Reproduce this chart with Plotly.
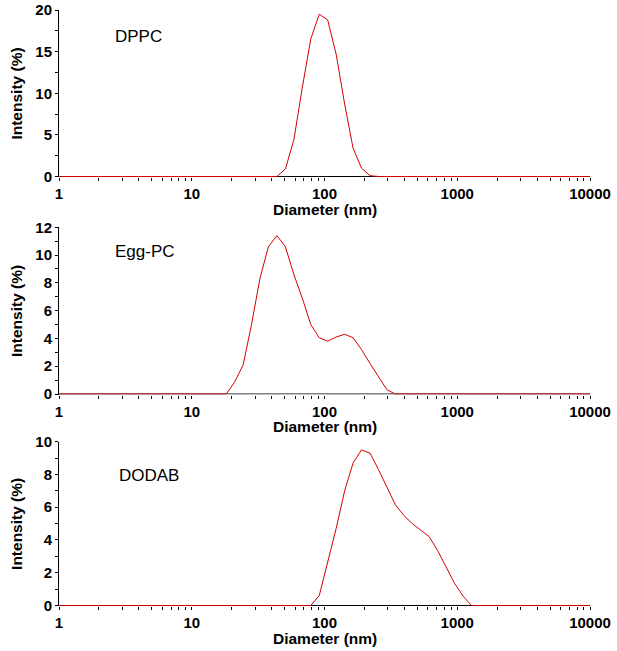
import plotly.graph_objects as go

# ---- data (Zetasizer size bins, nm) ----
dppc_d = [1, 43.8, 50.75, 58.77, 68.06, 78.8, 91.28, 105.7, 122.4, 141.8, 164.2, 190.1, 220.2, 255.0, 10000]
dppc_i = [0, 0, 0.9, 4.4, 10.7, 16.5, 19.5, 18.8, 14.7, 8.7, 3.4, 1.0, 0.1, 0, 0]

egg_d = [1, 18.2, 21.0, 24.4, 28.2, 32.6, 37.8, 43.8, 50.75, 58.77, 68.06, 78.8, 91.28, 105.7,
         122.4, 141.8, 164.2, 190.1, 220.2, 255.0, 295.3, 342.0, 10000]
egg_i = [0, 0, 0.85, 2.1, 5.0, 8.3, 10.6, 11.4, 10.6, 8.6, 6.9, 5.0, 4.05, 3.8,
         4.1, 4.3, 4.05, 3.2, 2.2, 1.2, 0.3, 0, 0]

dodab_d = [1, 78.8, 91.28, 105.7, 122.4, 141.8, 164.2, 190.1, 220.2, 255.0, 295.3, 342.0, 396.0,
           458.6, 531.0, 615.0, 712.0, 825.0, 955.0, 1106.0, 1281.0, 10000]
dodab_i = [0, 0, 0.6, 2.7, 4.7, 7.0, 8.7, 9.5, 9.3, 8.3, 7.2, 6.15, 5.5,
           5.0, 4.6, 4.2, 3.35, 2.3, 1.35, 0.57, 0, 0]

sample_names = ["DPPC", "Egg-PC", "DODAB"]

# tick labels
x_decades = [1, 10, 100, 1000, 10000]
x_decade_labels = ["1", "10", "100", "1000", "10000"]
x_minor_mult = [2, 3, 4, 5, 6, 7, 8, 9]

y1_major = [0, 5, 10, 15, 20]
y1_minor_step = 2.5
y2_major = [0, 2, 4, 6, 8, 10, 12]
y2_minor_step = 1
y3_major = [0, 2, 4, 6, 8, 10]
y3_minor_step = 1

# ---- build tick arrays ----
xtickvals, xticktext = [], []
for d, lab in zip(x_decades, x_decade_labels):
    xtickvals.append(d)
    xticktext.append(lab)
    if d < x_decades[-1]:
        for m in x_minor_mult:
            xtickvals.append(d * m)
            xticktext.append("")


def yticks(major, step):
    vals, txt = [], []
    for i, v in enumerate(major):
        vals.append(v)
        txt.append(str(v))
        if i < len(major) - 1:
            vals.append(v + step)
            txt.append("")
    return vals, txt


FONT = "Liberation Sans, Arial, sans-serif"
RED = "#d40000"

W, H = 617, 651
ML, MR, MT, MB = 59, 27, 10, 45
ph = H - MT - MB


def dom(top_px, bot_px):
    return [(H - MB - bot_px) / ph, (H - MB - top_px) / ph]


domains = [dom(10, 177), dom(227.3, 394.5), dom(441.7, 606)]
yranges = [[-0.06, 20], [-0.036, 12], [-0.03, 10]]
yts = [yticks(y1_major, y1_minor_step), yticks(y2_major, y2_minor_step), yticks(y3_major, y3_minor_step)]
label_pos = [(0.101, 0.844), (0.101, 0.858), (0.109, 0.797)]

fig = go.Figure()
series = [(dppc_d, dppc_i), (egg_d, egg_i), (dodab_d, dodab_i)]
for k, (d, inten) in enumerate(series):
    sfx = "" if k == 0 else str(k + 1)
    fig.add_trace(go.Scatter(x=d, y=inten, mode="lines", line=dict(color=RED, width=1),
                             xaxis="x" + sfx, yaxis="y" + sfx, showlegend=False, hoverinfo="x+y"))

layout = dict(width=W, height=H, margin=dict(l=ML, r=MR, t=MT, b=MB),
              paper_bgcolor="white", plot_bgcolor="white", showlegend=False,
              font=dict(family=FONT, color="black"))
shapes, annotations = [], []
for k in range(3):
    sfx = "" if k == 0 else str(k + 1)
    tickfont = dict(family=FONT, size=15, color="black", weight="bold")
    titlefont = dict(family=FONT, size=15.5, color="black", weight="bold")
    layout["xaxis" + sfx] = dict(
        type="log", range=[0, 4], domain=[0, 1], anchor="y" + sfx,
        tickmode="array", tickvals=xtickvals, ticktext=xticktext,
        ticks="outside", ticklen=3, tickwidth=1, tickcolor="black",
        showline=False, showgrid=False, zeroline=False, automargin=False,
        tickfont=tickfont,
    )
    # x-axis title placed just below the tick labels
    annotations.append(dict(text="Diameter (nm)", xref="x" + sfx + " domain", yref="y" + sfx + " domain",
                            x=0.5, y=0, yshift=-32, xanchor="center", yanchor="middle",
                            showarrow=False, font=titlefont))
    # overlay axis for inward half of the ticks
    layout["xaxis" + str(k + 4)] = dict(
        type="log", range=[0, 4], overlaying="x" + sfx, anchor="y" + sfx, side="bottom",
        tickmode="array", tickvals=xtickvals, ticks="inside", ticklen=3, tickwidth=1,
        tickcolor="black", showticklabels=False, showline=False, showgrid=False,
        zeroline=False, automargin=False,
    )
    tv, tt = yts[k]
    layout["yaxis" + sfx] = dict(
        range=yranges[k], domain=domains[k], anchor="x" + sfx,
        tickmode="array", tickvals=tv, ticktext=tt,
        ticks="outside", ticklen=3, tickwidth=1, tickcolor="black",
        showline=True, linecolor="black", linewidth=1,
        showgrid=False, zeroline=False, automargin=False,
        tickfont=tickfont,
        title=dict(text="Intensity (%)", font=titlefont, standoff=8),
    )
    shapes.append(dict(type="line", xref="x" + sfx + " domain", x0=0, x1=1, yref="y" + sfx, y0=0, y1=0,
                       line=dict(color="black", width=1), layer="below"))
    ax, ay = label_pos[k]
    annotations.append(dict(text=sample_names[k], xref="x" + sfx + " domain", yref="y" + sfx + " domain",
                            x=ax, y=ay, xanchor="left", yanchor="middle", showarrow=False,
                            font=dict(family=FONT, size=17, color="black")))

layout["shapes"] = shapes
layout["annotations"] = annotations
fig.update_layout(**layout)
fig.write_html("out.html", config={"displayModeBar": False},
               post_script="document.body.style.margin='0px';")
